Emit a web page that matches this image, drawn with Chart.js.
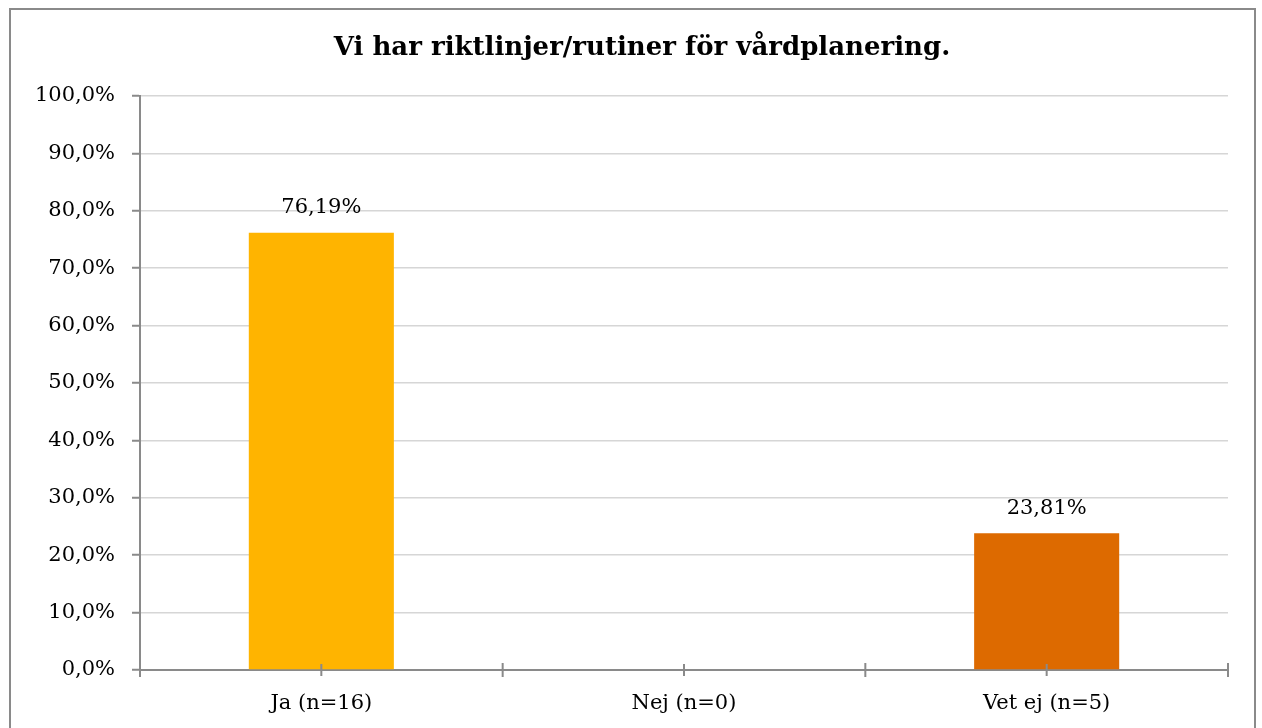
<!DOCTYPE html>
<html lang="sv">
<head>
    <meta charset="UTF-8">
    <meta name="viewport" content="width=device-width, initial-scale=1.0">
    <script src="https://cdn.jsdelivr.net/npm/chart.js"></script>
    <title>Vårdplanering</title>
    <style>
        html, body { margin: 0; padding: 0; background: #fff; overflow: hidden; }
        #frame {
            position: absolute; left: 9px; top: 8px; width: 1247px; height: 760px;
            border: 2px solid #8a8a8a; box-sizing: border-box;
        }
        #vardChart { position: absolute; left: 0; top: 0; }
    </style>
</head>
<body>
    <div id="frame"></div>
    <canvas id="vardChart" width="1262" height="728"></canvas>

    <script>
        // Data
        const categories = ['Ja (n=16)', 'Nej (n=0)', 'Vet ej (n=5)'];
        const percentValues = [76.19, 0, 23.81];
        const barColors = ['#FFB400', '#F29100', '#DD6A00'];
        const yTicks = [0, 10, 20, 30, 40, 50, 60, 70, 80, 90, 100];

        const fontFamily = '"DejaVu Serif", "Liberation Serif", serif';
        const axisGray = '#8a8a8a';

        const canvas = document.getElementById('vardChart');
        const ctx = canvas.getContext('2d');

        // Swedish style number, e.g. 76,19%
        function pct(v, digits) {
          return v.toFixed(digits).replace('.', ',') + '%';
        }

        // Value labels above the bars (zero bars get none)
        const valueLabels = {
          id: 'valueLabels',
          afterDatasetsDraw(chart) {
            const c = chart.ctx;
            const meta = chart.getDatasetMeta(0);
            c.save();
            c.font = '21px ' + fontFamily;
            c.fillStyle = '#000';
            c.textAlign = 'center';
            c.textBaseline = 'middle';
            meta.data.forEach((bar, i) => {
              const v = percentValues[i];
              if (v <= 0) return;
              c.fillText(pct(v, 2), bar.x, bar.y - 25);
            });
            c.restore();
          }
        };

        // Excel style crossing tick marks on the category axis
        const crossTicks = {
          id: 'crossTicks',
          afterDraw(chart) {
            const x = chart.scales.x;
            const c = chart.ctx;
            const half = x.width / categories.length / 2;
            const y0 = x.top;
            c.save();
            c.strokeStyle = axisGray;
            c.lineWidth = 2;
            c.beginPath();
            categories.forEach((lab, i) => {
              const px = x.getPixelForTick(i);
              c.moveTo(px, y0 - 6); c.lineTo(px, y0 + 6);
              c.moveTo(px - half, y0 - 7); c.lineTo(px - half, y0 + 7);
              if (i === categories.length - 1) {
                c.moveTo(px + half, y0 - 7); c.lineTo(px + half, y0 + 7);
              }
            });
            c.stroke();
            c.restore();
          }
        };

        const data = {
          labels: categories,
          datasets: [
            {
              label: 'Andel',
              data: percentValues,
              backgroundColor: barColors,
              barPercentage: 0.4,
              categoryPercentage: 1.0,
            },
          ],
        };

        const options = {
          responsive: false,
          animation: false,
          layout: { padding: { left: 22, right: 0, top: 0, bottom: 0 } },
          scales: {
            x: {
              afterFit: (scale) => { scale.height = 58; },
              grid: { display: false, drawTicks: false },
              border: { display: true, color: axisGray, width: 2 },
              ticks: {
                color: '#000',
                padding: 21,
                font: { family: fontFamily, size: 21 },
              },
            },
            y: {
              min: 0,
              max: 100,
              afterFit: (scale) => { scale.width = 118; },
              afterBuildTicks: (scale) => { scale.ticks = yTicks.map(v => ({ value: v })); },
              grid: { color: '#d6d6d6', lineWidth: 1.5, tickLength: 8, tickColor: axisGray, tickWidth: 2 },
              border: { display: true, color: axisGray, width: 2 },
              ticks: {
                color: '#000',
                padding: 17,
                font: { family: fontFamily, size: 21 },
                callback: (v) => pct(v, 1),
              },
            },
            // empty right margin inside the frame
            yRight: {
              position: 'right',
              afterFit: (scale) => { scale.width = 34; },
              grid: { display: false },
              border: { display: false },
              ticks: { display: false },
            },
          },
          plugins: {
            legend: { display: false },
            tooltip: { enabled: false },
            title: {
              display: true,
              text: 'Vi har riktlinjer/rutiner för vårdplanering.',
              color: '#000',
              font: { family: fontFamily, size: 26, weight: 'bold', lineHeight: 1.2 },
              padding: { top: 32.4, bottom: 32.4 },
            },
          },
        };

        const vardChart = new Chart(ctx, {
          type: 'bar',
          data: data,
          options: options,
          plugins: [valueLabels, crossTicks],
        });
    </script>
</body>
</html>
